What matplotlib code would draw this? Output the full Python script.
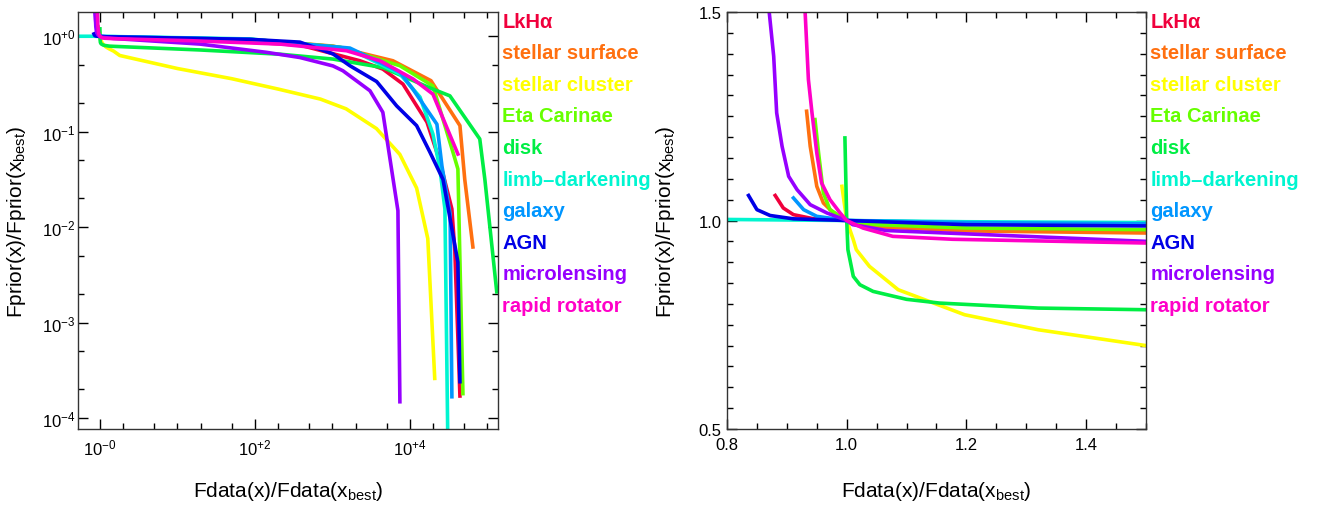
import numpy as np
import matplotlib
matplotlib.use('Agg')
import matplotlib.pyplot as plt
from matplotlib.ticker import LogLocator, FuncFormatter, MultipleLocator, NullFormatter

plt.rcParams['font.family'] = ['Liberation Sans', 'DejaVu Sans']
plt.rcParams['mathtext.fontset'] = 'custom'
plt.rcParams['mathtext.rm'] = 'Liberation Sans'
plt.rcParams['mathtext.it'] = 'Liberation Sans:italic'
plt.rcParams['mathtext.bf'] = 'Liberation Sans:bold'

names = ['LkH\u03b1', 'stellar surface', 'stellar cluster', 'Eta Carinae', 'disk',
         'limb\u2013darkening', 'galaxy', 'AGN', 'microlensing', 'rapid rotator']
colors = ['#f0003c', '#ff7010', '#ffff00', '#66ff00', '#00ee44',
          '#00f5d0', '#0096ff', '#0000e6', '#9600ff', '#ff00c8']

# x = Fdata(x)/Fdata(xbest), y = Fprior(x)/Fprior(xbest)
LkHaX = [0.8805, 0.894, 0.911, 0.945, 1.0, 1.05, 1.2, 1.5, 19.5, 380, 2260, 4470, 8130, 16600, 24500, 34800, 38000, 44200]
LkHaY = [1.06, 1.03, 1.014, 1.004, 1.0, 0.99, 0.98, 0.972, 0.937, 0.81, 0.555, 0.454, 0.316, 0.126, 0.048, 0.0155, 0.0056, 1.7e-4]

SurfaceX = [0.933, 0.939, 0.95, 0.961, 0.978, 1.0, 1.05, 1.2, 1.5, 86, 1015, 6030, 18700, 44200, 51000, 65000]
SurfaceY = [1.262, 1.178, 1.082, 1.042, 1.018, 1.0, 0.985, 0.975, 0.970, 0.93, 0.79, 0.555, 0.343, 0.116, 0.0317, 0.0062]

ClusterX = [0.992, 1.0, 1.011, 1.016, 1.038, 1.086, 1.197, 1.32, 1.5, 1.8, 10, 50, 200, 700, 1500, 3700, 7400, 12200, 17000, 20900]
ClusterY = [1.082, 1.0, 0.954, 0.93, 0.89, 0.834, 0.774, 0.738, 0.70, 0.63, 0.46, 0.36, 0.28, 0.22, 0.174, 0.108, 0.058, 0.0257, 0.0076, 0.00026]

EtaX = [0.947, 0.953, 0.961, 0.972, 1.0, 1.05, 1.2, 1.5, 86, 1250, 7420, 19800, 35900, 41600, 48300]
EtaY = [1.242, 1.162, 1.066, 1.026, 1.0, 0.99, 0.982, 0.978, 0.93, 0.772, 0.492, 0.302, 0.0612, 0.0407, 1.8e-4]

DiskX = [0.997, 1.0, 1.002, 1.011, 1.022, 1.044, 1.1, 1.155, 1.21, 1.32, 1.5, 19.5, 210, 1015, 4500, 19800, 32800, 79700, 92700, 132000]
DiskY = [1.198, 1.0, 0.93, 0.866, 0.846, 0.83, 0.811, 0.802, 0.798, 0.79, 0.786, 0.72, 0.65, 0.578, 0.47, 0.28, 0.238, 0.084, 0.0317, 0.0021]

LimbX = [0.5, 0.8, 1.0, 1.2, 1.5, 86, 1680, 7420, 13500, 19800, 24400, 28300, 30900]
LimbY = [1.0025, 1.0025, 1.0, 0.997, 0.995, 0.94, 0.736, 0.403, 0.231, 0.0946, 0.0407, 0.0155, 5e-5]

GalaxyX = [0.911, 0.928, 0.95, 1.0, 1.2, 1.5, 86, 1680, 7420, 10900, 22300, 25900, 33000, 34800]
GalaxyY = [1.054, 1.026, 1.01, 1.0, 0.995, 0.992, 0.93, 0.754, 0.423, 0.28, 0.12, 0.0437, 0.0138, 1.67e-4]

AGNX = [0.836, 0.85, 0.872, 0.911, 1.0, 1.2, 1.5, 86, 380, 1015, 1680, 3720, 6730, 12200, 18100, 26700, 41600, 44200]
AGNY = [1.06, 1.026, 1.012, 1.004, 1.0, 0.99, 0.987, 0.93, 0.87, 0.655, 0.492, 0.336, 0.187, 0.116, 0.0612, 0.0317, 0.0043, 2.4e-4]

MicroX = [0.85, 0.8705, 0.878, 0.883, 0.892, 0.903, 0.917, 0.939, 0.967, 1.0, 1.01, 1.066, 1.5, 19.5, 141, 380, 1015, 1365, 3050, 4470, 7000, 7420]
MicroY = [2.0, 1.5, 1.394, 1.258, 1.178, 1.106, 1.074, 1.038, 1.018, 1.0, 0.99, 0.976, 0.950, 0.83, 0.68, 0.6, 0.49, 0.436, 0.269, 0.16, 0.0149, 1.48e-4]

RotatorX = [0.92, 0.9305, 0.936, 0.942, 0.95, 0.958, 0.972, 0.989, 1.0, 1.027, 1.077, 1.177, 1.5, 15, 210, 1520, 4120, 11000, 19800, 41600]
RotatorY = [2.0, 1.5, 1.338, 1.258, 1.162, 1.09, 1.05, 1.018, 1.0, 0.982, 0.962, 0.955, 0.946, 0.9, 0.83, 0.707, 0.555, 0.357, 0.248, 0.0584]

series = [(LkHaX, LkHaY), (SurfaceX, SurfaceY), (ClusterX, ClusterY), (EtaX, EtaY), (DiskX, DiskY),
          (LimbX, LimbY), (GalaxyX, GalaxyY), (AGNX, AGNY), (MicroX, MicroY), (RotatorX, RotatorY)]

W, H = 1317, 506
fig = plt.figure(figsize=(W / 100, H / 100), dpi=100)
ax1 = fig.add_axes([78 / W, 76 / H, 420 / W, 417 / H])
ax2 = fig.add_axes([727 / W, 76 / H, 419 / W, 417 / H])

for (x, y), c in zip(series, colors):
    ax1.plot(x, y, color=c, lw=2.6)
    ax2.plot(x, y, color=c, lw=2.6)

ax1.set_xscale('log')
ax1.set_yscale('log')
ax1.set_xlim(0.52, 1.37e5)
ax1.set_ylim(7.67e-5, 1.8)
ax1.xaxis.set_major_locator(LogLocator(base=100))
ax1.xaxis.set_minor_locator(LogLocator(base=10, subs=(1, 2, 5), numticks=30))
ax1.yaxis.set_major_locator(LogLocator(base=10))
ax1.yaxis.set_minor_locator(LogLocator(base=10, subs=(2, 5), numticks=30))
ax1.xaxis.set_minor_formatter(NullFormatter())
ax1.yaxis.set_minor_formatter(NullFormatter())


def xfmt(v, pos):
    e = int(round(np.log10(v)))
    s = '-' if e <= 0 else '+'
    return '$10^{%s%d}$' % (s, abs(e))


def yfmt(v, pos):
    e = int(round(np.log10(v)))
    s = '+' if e >= 0 else '-'
    return '$10^{%s%d}$' % (s, abs(e))


ax1.xaxis.set_major_formatter(FuncFormatter(xfmt))
ax1.yaxis.set_major_formatter(FuncFormatter(yfmt))

ax2.set_xlim(0.8, 1.5)
ax2.set_ylim(0.5, 1.5)
ax2.xaxis.set_major_locator(MultipleLocator(0.2))
ax2.xaxis.set_minor_locator(MultipleLocator(0.05))
ax2.yaxis.set_major_locator(MultipleLocator(0.5))
ax2.yaxis.set_minor_locator(MultipleLocator(0.05))
ax2.xaxis.set_major_formatter(FuncFormatter(lambda v, p: '%.1f' % v))
ax2.yaxis.set_major_formatter(FuncFormatter(lambda v, p: '%.1f' % v))

for ax in (ax1, ax2):
    ax.tick_params(which='both', direction='in', top=True, right=True, labelsize=12, width=1)
    ax.tick_params(which='major', length=7)
    ax.tick_params(which='minor', length=4)
    ax.tick_params(axis='x', pad=6)
    for sp in ax.spines.values():
        sp.set_linewidth(1)
        sp.set_color('#333333')
    ax.set_xlabel('Fdata(x)/Fdata(x$_{\\rm best}$)', fontsize=15)
    ax.set_ylabel('Fprior(x)/Fprior(x$_{\\rm best}$)', fontsize=15)
    ax.xaxis.set_label_coords(0.5, -0.12)
    for i, (n, c) in enumerate(zip(names, colors)):
        ax.text(1.01, 1 - (9 + 31.6 * i) / 417, n, color=c, fontsize=14.5, fontweight='bold',
                transform=ax.transAxes, ha='left', va='center')

ax1.tick_params(axis='y', pad=2)
ax2.tick_params(axis='y', pad=4)
ax1.yaxis.set_label_coords(-0.12, 0.5)
ax2.yaxis.set_label_coords(-0.12, 0.5)

plt.savefig('out.png', dpi=100)
